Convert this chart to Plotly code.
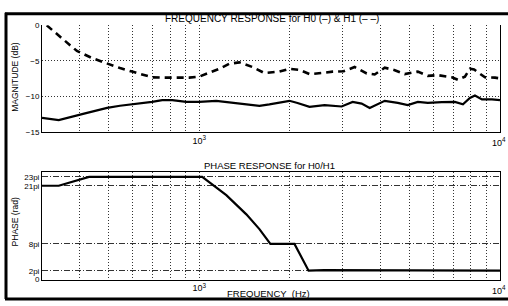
import plotly.graph_objects as go

# ---- data ----
h0_freq = [300, 341, 414, 494, 545, 607, 697, 753, 813, 905, 1000, 1139, 1288, 1468, 1585,
           1711, 1848, 1995, 2122, 2326, 2610, 2974, 3236, 3467, 3687, 3981, 4137, 4571, 4936,
           5331, 5754, 6408, 7079, 7530, 7943, 8254, 8710, 9404, 10000]
h0_db = [-13.0, -13.3, -12.4, -11.6, -11.3, -11.1, -10.75, -10.5, -10.5, -10.75, -10.75, -10.6,
         -10.85, -11.1, -11.3, -11.1, -10.8, -10.6, -10.9, -11.45, -11.2, -11.4, -10.75, -11.0,
         -11.6, -10.9, -10.6, -10.9, -11.2, -10.75, -10.9, -10.8, -10.75, -11.1, -10.2, -9.85,
         -10.4, -10.4, -10.5]

h1_freq = [311, 350, 392, 440, 494, 545, 598, 697, 764, 858, 926, 1000, 1063, 1166, 1259, 1359,
           1502, 1647, 1848, 1995, 2154, 2326, 2551, 2776, 3020, 3286, 3603, 3831, 4137, 4467,
           4824, 5331, 5754, 6215, 6918, 7244, 7644, 7943, 8200, 8577, 8913, 9624, 10000]
h1_db = [0.0, -1.9, -3.6, -4.6, -5.4, -6.0, -6.5, -7.3, -7.35, -7.35, -7.35, -7.2, -6.8, -6.1,
         -5.4, -5.2, -5.85, -6.7, -6.5, -6.1, -6.25, -6.85, -6.7, -6.5, -6.45, -5.85, -6.75,
         -6.9, -5.95, -6.3, -6.85, -6.5, -7.1, -7.0, -7.3, -7.65, -7.2, -6.1, -6.2, -6.75, -7.3,
         -7.35, -7.45]

phase_freq = [300, 341, 430, 1023, 1230, 1434, 1585, 1724, 2073, 2310, 2600, 3000, 3300, 10000]
phase_pi = [21, 21, 23, 23, 18.9, 14.6, 11.3, 8, 8, 2, 2.12, 2.1, 2.0, 2.0]

major_freqs = [1000]
major_labels = ['10<sup>3</sup>']
minor_freqs = [400, 500, 600, 700, 800, 900, 2000, 3000, 4000, 5000, 6000, 7000, 8000, 9000]

mag_ticks = [0, -5, -10, -15]
mag_labels = ['0', '\u22125', '\u221210', '\u221215']
phase_ticks = [0, 2, 8, 21, 23]
phase_labels = ['0', '2pi', '8pi', '21pi', '23pi']

W, H = 508, 306
FONT = 'Liberation Sans, Arial, sans-serif'

def px_x(x):
    return x / W

def px_y(y):
    return 1 - y / H

fig = go.Figure()
fig.add_trace(go.Scatter(x=h0_freq, y=h0_db, mode='lines', line=dict(color='black', width=2.2),
                         xaxis='x', yaxis='y', showlegend=False))
fig.add_trace(go.Scatter(x=h1_freq, y=h1_db, mode='lines',
                         line=dict(color='black', width=2.6, dash='7px,5px'),
                         xaxis='x', yaxis='y', showlegend=False))
fig.add_trace(go.Scatter(x=phase_freq, y=phase_pi, mode='lines', line=dict(color='black', width=2.2),
                         xaxis='x2', yaxis='y2', showlegend=False))

xr = [2.4771, 4.0]
common_x = dict(type='log', range=xr, tickmode='array', tickvals=major_freqs, ticktext=major_labels,
                showgrid=True, gridcolor='#333', griddash='1px,2px', gridwidth=1,
                minor=dict(tickmode='array', tickvals=minor_freqs, showgrid=True,
                           gridcolor='#333', griddash='1px,2px', gridwidth=1, ticks=''),
                showline=True, linecolor='black', linewidth=1, ticks='',
                tickfont=dict(family=FONT, size=9, color='black'), zeroline=False,
                domain=[px_x(42), px_x(500)])

fig.update_layout(
    width=W, height=H, margin=dict(l=0, r=0, t=0, b=0),
    paper_bgcolor='white', plot_bgcolor='white',
    xaxis=dict(**common_x, anchor='y', mirror=False),
    yaxis=dict(range=[-15, 0], tickmode='array', tickvals=mag_ticks, ticktext=mag_labels,
               showgrid=True, gridcolor='#333', griddash='1px,2px', gridwidth=1,
               showline=True, linecolor='black', linewidth=1, mirror=True, ticks='',
               zeroline=False, tickfont=dict(family=FONT, size=8, color='black'),
               domain=[px_y(132), px_y(22)], anchor='x'),
    xaxis2=dict(**common_x, anchor='y2', mirror=True),
    yaxis2=dict(range=[0, 24.1], tickmode='array', tickvals=phase_ticks, ticktext=phase_labels,
                showgrid=True, gridcolor='#333', griddash='6px,2px,1px,2px', gridwidth=1,
                showline=True, linecolor='black', linewidth=1, mirror=True, ticks='',
                zeroline=False, tickfont=dict(family=FONT, size=8, color='black'),
                domain=[px_y(284), px_y(173)], anchor='x2'),
)

# 10^4 labels (placed so they stay inside the canvas, as in the reference)
for yy in (142, 295):
    fig.add_annotation(text='10<sup>4</sup>', x=px_x(508), y=px_y(yy), xref='paper', yref='paper',
                       showarrow=False, font=dict(family=FONT, size=9, color='black'),
                       xanchor='right', yanchor='middle')

fig.add_annotation(text='FREQUENCY RESPONSE for H0 (\u2013) & H1 (\u2013 \u2013)', x=px_x(272), y=px_y(15),
                   xref='paper', yref='paper', showarrow=False,
                   font=dict(family=FONT, size=10, color='black'), xanchor='center', yanchor='middle')
fig.add_annotation(text='PHASE RESPONSE for H0/H1', x=px_x(269), y=px_y(166),
                   xref='paper', yref='paper', showarrow=False,
                   font=dict(family=FONT, size=9.5, color='black'), xanchor='center', yanchor='middle')
fig.add_annotation(text='FREQUENCY  (Hz)', x=px_x(268), y=px_y(298),
                   xref='paper', yref='paper', showarrow=False,
                   font=dict(family=FONT, size=9.5, color='black'), xanchor='center', yanchor='middle')
fig.add_annotation(text='MAGNITUDE (dB)', x=px_x(15), y=px_y(75), textangle=-90,
                   xref='paper', yref='paper', showarrow=False,
                   font=dict(family=FONT, size=8.5, color='black'), xanchor='center', yanchor='middle')
fig.add_annotation(text='PHASE (rad)', x=px_x(15), y=px_y(225), textangle=-90,
                   xref='paper', yref='paper', showarrow=False,
                   font=dict(family=FONT, size=8.5, color='black'), xanchor='center', yanchor='middle')

# outer black frame (left, top, bottom)
fig.add_shape(type='line', xref='paper', yref='paper', x0=px_x(5), x1=1.0, y0=px_y(10), y1=px_y(10),
              line=dict(color='black', width=3), layer='above')
fig.add_shape(type='line', xref='paper', yref='paper', x0=px_x(6), x1=px_x(6), y0=px_y(9), y1=px_y(304),
              line=dict(color='black', width=3), layer='above')
fig.add_shape(type='line', xref='paper', yref='paper', x0=px_x(5), x1=1.0, y0=px_y(304), y1=px_y(304),
              line=dict(color='black', width=3), layer='above')

fig.write_html('out.html', config={'displayModeBar': False},
               post_script="document.body.style.margin='0';document.body.style.overflow='hidden';")
